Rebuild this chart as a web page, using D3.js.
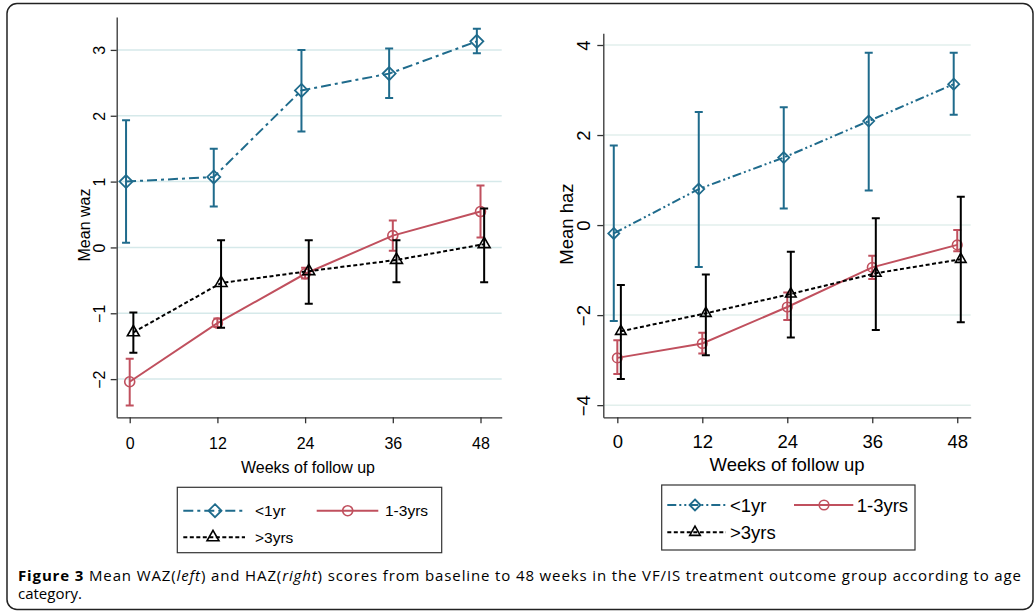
<!DOCTYPE html>
<html>
<head>
<meta charset="utf-8">
<script src="https://cdn.jsdelivr.net/npm/d3@7"></script>
<style>
  body { margin: 0; background: #fff; }
  svg { display: block; font-family: "Liberation Sans", Arial, sans-serif; }
</style>
</head>
<body>
<svg width="1036" height="612"></svg>
<script>
const weeks = [0, 12, 24, 36, 48];
const groups = ["<1yr", "1-3yrs", ">3yrs"];
const wazTicks = [-2, -1, 0, 1, 2, 3];
const hazTicks = [-4, -2, 0, 2, 4];

// rows follow groups: <1yr, 1-3yrs, >3yrs
const wazMean = [
  [1.0, 1.07, 2.385, 2.64, 3.13],
  [-2.04, -1.15, -0.4, 0.18, 0.545],
  [-1.29, -0.54, -0.36, -0.19, 0.05]
];
const wazLow = [
  [0.07, 0.62, 1.76, 2.27, 2.95],
  [-2.4, -1.21, -0.47, -0.05, 0.15],
  [-1.6, -1.22, -0.855, -0.53, -0.53]
];
const wazHigh = [
  [1.93, 1.5, 3.0, 3.02, 3.32],
  [-1.69, -1.08, -0.31, 0.41, 0.94],
  [-0.99, 0.11, 0.11, 0.11, 0.59]
];

const hazMean = [
  [-0.185, 0.8, 1.5, 2.31, 3.13],
  [-2.95, -2.63, -1.82, -0.94, -0.44],
  [-2.36, -1.96, -1.53, -1.07, -0.76]
];
const hazLow = [
  [-2.13, -0.93, 0.37, 0.77, 2.45],
  [-3.31, -2.85, -2.11, -1.2, -0.58],
  [-3.42, -2.89, -2.5, -2.33, -2.16]
];
const hazHigh = [
  [1.77, 2.51, 2.62, 3.83, 3.83],
  [-2.56, -2.39, -1.5, -0.68, -0.11],
  [-1.33, -1.1, -0.59, 0.15, 0.63]
];

const captionLines = [
  ["Figure 3", " Mean WAZ(", "left", ") and HAZ(", "right", ") scores from baseline to 48 weeks in the VF/IS treatment outcome group according to age"],
  ["category."]
];

const colors = ["#1f6b8c", "#c0505e", "#000"];
const jitter = [-0.5, 0, 0.5];

const svg = d3.select("svg");

svg.append("rect")
  .attr("x", 7).attr("y", 3.5)
  .attr("width", 1026).attr("height", 606)
  .attr("rx", 10)
  .attr("fill", "none")
  .attr("stroke", "#222")
  .attr("stroke-width", 1.5);

const panels = [
  {
    mean: wazMean, low: wazLow, high: wazHigh, ticks: wazTicks,
    xDomain: [-1.78, 50.9], xRange: [116.7, 501.7],
    yDomain: [-2.58, 3.5], yRange: [417.3, 17],
    font: 16, yLabelGap: 17.7, xLabelPad: 14,
    yTitle: "Mean waz", yTitleX: 84, yTitleY: 225,
    xTitleX: 308, xTitleY: 472.5,
    grid: "#d6e9ea",
    dashes: ["10,4,3,4", null, "4,2.5"],
    diamond: 6.5, circle: 5, triangle: 62,
    legend: { x: 177.3, y: 487.3, w: 264.4, h: 65.4, row: [510.7, 537.3],
      keys: [[183.3, 245, 215, 255], [316.7, 378.3, 347.7, 385], [183.3, 245, 213, 255]], font: 15.5 }
  },
  {
    mean: hazMean, low: hazLow, high: hazHigh, ticks: hazTicks,
    xDomain: [-1.98, 49.9], xRange: [603.3, 970.7],
    yDomain: [-4.27, 4.26], yRange: [417.3, 33.3],
    font: 18.5, yLabelGap: 20, xLabelPad: 12,
    yTitle: "Mean haz", yTitleX: 567, yTitleY: 224,
    xTitleX: 787, xTitleY: 471,
    grid: "#e2efec",
    dashes: ["9,3,2,3,2,3", null, "4,2.5"],
    diamond: 5.5, circle: 4.8, triangle: 48,
    legend: { x: 661.7, y: 485, w: 253.3, h: 65, row: [505, 532.3],
      keys: [[667.3, 726, 695, 730], [794, 853.3, 824, 856.7], [667.3, 726, 695, 730]], font: 18.5 }
  }
];

const drawMarker = (g, gi, cx, cy, p) => {
  if (gi === 0) {
    const h = p.diamond;
    g.append("path")
      .attr("d", `M${cx},${cy - h}L${cx + h},${cy}L${cx},${cy + h}L${cx - h},${cy}Z`)
      .attr("fill", "none").attr("stroke", colors[0]).attr("stroke-width", 1.8);
  } else if (gi === 1) {
    g.append("circle")
      .attr("cx", cx).attr("cy", cy).attr("r", p.circle)
      .attr("fill", "none").attr("stroke", colors[1]).attr("stroke-width", 1.6);
  } else {
    g.append("path")
      .attr("d", d3.symbol(d3.symbolTriangle, p.triangle)())
      .attr("transform", `translate(${cx},${cy})`)
      .attr("fill", "none").attr("stroke", colors[2]).attr("stroke-width", 1.6);
  }
};

panels.forEach((p) => {
  const x = d3.scaleLinear().domain(p.xDomain).range(p.xRange);
  const y = d3.scaleLinear().domain(p.yDomain).range(p.yRange);
  const g = svg.append("g");

  // grid
  g.selectAll(".grid").data(p.ticks).enter().append("line")
    .attr("x1", p.xRange[0]).attr("x2", p.xRange[1])
    .attr("y1", (d) => y(d)).attr("y2", (d) => y(d))
    .attr("stroke", p.grid).attr("stroke-width", 1.5);

  // axes
  const yAxis = g.append("g")
    .attr("transform", `translate(${p.xRange[0]},0)`)
    .call(d3.axisLeft(y).tickValues(p.ticks).tickSize(6).tickSizeOuter(0).tickFormat(d3.format("d")));
  yAxis.selectAll("text")
    .attr("x", 0).attr("y", -p.yLabelGap).attr("dy", "0.35em")
    .attr("transform", "rotate(-90)")
    .attr("text-anchor", "middle")
    .attr("font-size", p.font)
    .attr("font-family", "Liberation Sans, Arial, sans-serif")
    .attr("fill", "#000");

  const xAxis = g.append("g")
    .attr("transform", `translate(0,${p.yRange[0]})`)
    .call(d3.axisBottom(x).tickValues(weeks).tickSize(6).tickSizeOuter(0).tickPadding(p.xLabelPad));
  xAxis.selectAll("text")
    .attr("font-size", p.font)
    .attr("font-family", "Liberation Sans, Arial, sans-serif")
    .attr("fill", "#000");

  [yAxis, xAxis].forEach((a) => {
    a.select(".domain").attr("stroke", "#333").attr("stroke-width", 1.3);
    a.selectAll(".tick line").attr("stroke", "#333").attr("stroke-width", 1.3);
  });

  g.append("text")
    .attr("transform", `translate(${p.yTitleX},${p.yTitleY}) rotate(-90)`)
    .attr("dy", "0.35em")
    .attr("text-anchor", "middle")
    .attr("font-size", p.font)
    .text(p.yTitle);

  g.append("text")
    .attr("x", p.xTitleX).attr("y", p.xTitleY)
    .attr("text-anchor", "middle")
    .attr("font-size", p.font)
    .text("Weeks of follow up");

  // series
  groups.forEach((name, gi) => {
    const pts = weeks.map((w, i) => ({
      x: x(w + jitter[gi]),
      y: y(p.mean[gi][i]),
      lo: y(p.low[gi][i]),
      hi: y(p.high[gi][i])
    }));
    const sg = g.append("g");

    sg.append("path")
      .attr("d", d3.line().x((d) => d.x).y((d) => d.y)(pts))
      .attr("fill", "none")
      .attr("stroke", colors[gi])
      .attr("stroke-width", 2)
      .attr("stroke-dasharray", p.dashes[gi]);

    pts.forEach((d) => {
      sg.append("path")
        .attr("d", `M${d.x},${d.lo}V${d.hi}M${d.x - 4},${d.lo}H${d.x + 4}M${d.x - 4},${d.hi}H${d.x + 4}`)
        .attr("fill", "none")
        .attr("stroke", colors[gi])
        .attr("stroke-width", 2);
      drawMarker(sg, gi, d.x, d.y, p);
    });
  });

  // legend
  const L = p.legend;
  g.append("rect")
    .attr("x", L.x).attr("y", L.y).attr("width", L.w).attr("height", L.h)
    .attr("fill", "#fff").attr("stroke", "#333").attr("stroke-width", 1.2);
  groups.forEach((name, gi) => {
    const [x1, x2, mx, tx] = L.keys[gi];
    const ry = gi === 2 ? L.row[1] : L.row[0];
    g.append("line")
      .attr("x1", x1).attr("x2", x2).attr("y1", ry).attr("y2", ry)
      .attr("stroke", colors[gi]).attr("stroke-width", 2)
      .attr("stroke-dasharray", p.dashes[gi]);
    drawMarker(g, gi, mx, ry, p);
    g.append("text")
      .attr("x", tx).attr("y", ry).attr("dy", "0.36em")
      .attr("font-size", L.font)
      .text(name);
  });
});

// caption
const caption = svg.append("g")
  .attr("font-family", "'Open Sans', 'DejaVu Sans', sans-serif")
  .attr("font-size", 15);
captionLines.forEach((parts, li) => {
  const t = caption.append("text")
    .attr("x", 18)
    .attr("y", 580.5 + li * 18.5);
  if (li === 0) {
    t.attr("textLength", 1003).attr("lengthAdjust", "spacing");
  }
  parts.forEach((s, si) => {
    const span = t.append("tspan").text(s);
    if (li === 0 && si === 0) span.attr("font-weight", "bold");
    if (li === 0 && (si === 2 || si === 4)) span.attr("font-style", "italic");
  });
});
</script>
</body>
</html>
